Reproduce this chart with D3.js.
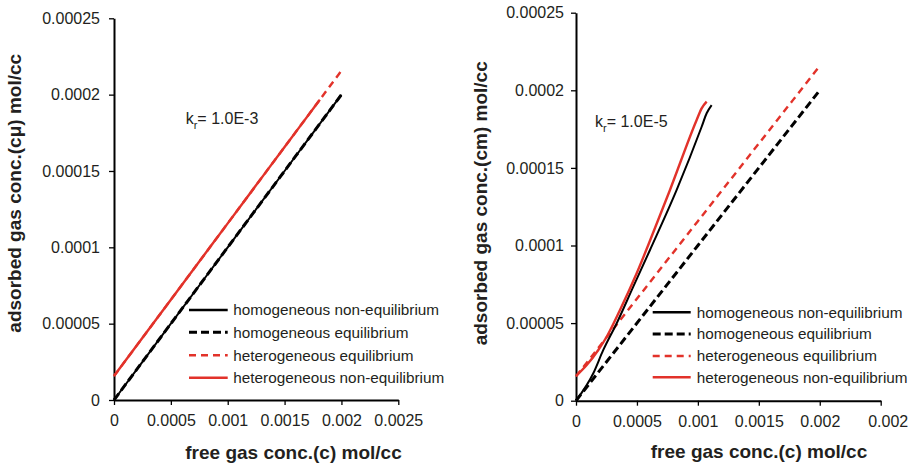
<!DOCTYPE html>
<html>
<head>
<meta charset="utf-8">
<script src="https://cdn.jsdelivr.net/npm/d3@7"></script>
<style>
  html, body { margin: 0; padding: 0; background: #fff; }
  svg { display: block; font-family: "Liberation Sans", Arial, sans-serif; }
</style>
</head>
<body>
<svg id="chart" width="917" height="466"></svg>
<script>
// ---------- data ----------
const yTickValues = [0, 0.00005, 0.0001, 0.00015, 0.0002, 0.00025];
const yTickLabels = ["0", "0.00005", "0.0001", "0.00015", "0.0002", "0.00025"];
const xTickValues = [0, 0.0005, 0.001, 0.0015, 0.002, 0.0025];
const xTickLabelsLeft = ["0", "0.0005", "0.001", "0.0015", "0.002", "0.0025"];
const xTickLabelsRight = ["0", "0.0005", "0.001", "0.0015", "0.002", "0.002"];

const legendLabels = ["homogeneous non-equilibrium", "homogeneous equilibrium",
                      "heterogeneous equilibrium", "heterogeneous non-equilibrium"];

// left panel, kr = 1.0E-3
const leftHomNonEqX = [0, 0.0005, 0.001, 0.0015, 0.002];
const leftHomNonEqY = [0, 0.00005, 0.0001, 0.00015, 0.0002];
const leftHomEqX = [0, 0.0005, 0.001, 0.0015, 0.002];
const leftHomEqY = [0, 0.00005, 0.0001, 0.00015, 0.0002];
const leftHetEqX = [0, 0.001, 0.002];
const leftHetEqY = [0.0000157, 0.0001157, 0.0002157];
const leftHetNonEqX = [0, 0.0005, 0.001, 0.0015, 0.00181];
const leftHetNonEqY = [0.0000157, 0.0000657, 0.0001157, 0.0001657, 0.0001967];

// right panel, kr = 1.0E-5
const rightHomNonEqX = [0, 0.000142, 0.000224, 0.000334, 0.00047, 0.000607, 0.000826, 0.001031, 0.001072, 0.001113];
const rightHomNonEqY = [0, 0.0000177, 0.0000327, 0.0000499, 0.0000735, 0.0000971, 0.0001358, 0.0001765, 0.0001852, 0.0001905];
const rightHomEqX = [0, 0.001, 0.002];
const rightHomEqY = [0, 0.0001, 0.0002];
const rightHetEqX = [0, 0.001, 0.002];
const rightHetEqY = [0.0000157, 0.0001157, 0.0002157];
const rightHetNonEqX = [0, 0.000088, 0.000183, 0.000252, 0.000361, 0.000498, 0.000593, 0.000771, 0.00099, 0.001031, 0.001072];
const rightHetNonEqY = [0.0000159, 0.000023, 0.0000327, 0.0000412, 0.0000584, 0.0000821, 0.0001003, 0.0001358, 0.0001809, 0.0001884, 0.0001927];

// ---------- styles ----------
const RED = "#e2322a";
const TXT = "#231f20";
const styles = {
  homNonEq: { color: "#000", width: 2, dash: null },
  homEq: { color: "#000", width: 3, dash: "8,4" },
  hetEq: { color: RED, width: 2.4, dash: "7,5" },
  hetNonEq: { color: RED, width: 2.4, dash: null }
};
const legendOrder = ["homNonEq", "homEq", "hetEq", "hetNonEq"];

const svg = d3.select("#chart");

function zip(xs, ys) { return xs.map((x, i) => [x, ys[i]]); }

function panel(cfg) {
  const x = d3.scaleLinear().domain([0, 0.0025]).range([cfg.x0, cfg.x1]);
  const y = d3.scaleLinear().domain([0, 0.00025]).range([cfg.y0, cfg.y1]);
  const g = svg.append("g");

  const xAxis = d3.axisBottom(x).tickValues(xTickValues)
    .tickFormat((d, i) => cfg.xLabels[i]).tickSize(5).tickSizeOuter(0).tickPadding(cfg.xPad);
  const yAxis = d3.axisLeft(y).tickValues(yTickValues)
    .tickFormat((d, i) => yTickLabels[i]).tickSize(5).tickSizeOuter(0).tickPadding(cfg.yPad);

  const gx = g.append("g").attr("transform", `translate(0,${cfg.y0})`).call(xAxis);
  const gy = g.append("g").attr("transform", `translate(${cfg.x0},0)`).call(yAxis);
  [gx, gy].forEach(a => {
    a.select(".domain").attr("stroke", "#000").attr("stroke-width", 2);
    a.selectAll(".tick line").attr("stroke", "#000").attr("stroke-width", 1.3);
    a.selectAll(".tick text").attr("fill", TXT).style("font-size", "16px")
      .style("font-family", "'Liberation Sans', Arial, sans-serif");
  });
  if (cfg.lastLabelDx) {
    gx.selectAll(".tick text").filter((d, i) => i === xTickValues.length - 1)
      .attr("dx", cfg.lastLabelDx);
  }

  const line = d3.line().x(d => x(d[0])).y(d => y(d[1])).curve(d3.curveMonotoneX);
  cfg.series.forEach(s => {
    const st = styles[s.key];
    g.append("path").datum(zip(s.xs, s.ys))
      .attr("d", line).attr("fill", "none")
      .attr("stroke", st.color).attr("stroke-width", st.width)
      .attr("stroke-dasharray", st.dash).attr("stroke-linejoin", "round");
  });

  // axis titles
  g.append("text").attr("x", cfg.xTitleX).attr("y", cfg.xTitleY)
    .attr("text-anchor", "middle").attr("fill", TXT)
    .style("font-size", "19px").style("font-weight", "bold").text("free gas conc.(c) mol/cc");
  g.append("text")
    .attr("transform", `translate(${cfg.yTitleX},${cfg.yTitleY}) rotate(-90)`)
    .attr("text-anchor", "middle").attr("fill", TXT)
    .style("font-size", "19px").style("font-weight", "bold").text(cfg.yTitle);

  // annotation
  const t = g.append("text").attr("x", cfg.annX).attr("y", cfg.annY)
    .attr("fill", TXT).style("font-size", "16px");
  t.append("tspan").text("k");
  t.append("tspan").attr("dy", 5).style("font-size", "11px").text("r");
  t.append("tspan").attr("dy", -5).text("= " + cfg.annText);

  // legend
  legendOrder.forEach((k, i) => {
    const st = styles[k];
    const ly = cfg.legRows[i];
    g.append("line").attr("x1", cfg.legX0).attr("x2", cfg.legX1)
      .attr("y1", ly).attr("y2", ly)
      .attr("stroke", st.color).attr("stroke-width", k === "homEq" ? 3 : 2.4)
      .attr("stroke-dasharray", st.dash);
    g.append("text").attr("x", cfg.legTextX).attr("y", ly).attr("dy", "0.35em")
      .attr("fill", TXT).style("font-size", "15.3px").text(legendLabels[i]);
  });
}

panel({
  x0: 114, x1: 398.3, y0: 400, y1: 18.3, xPad: 10, yPad: 9,
  xLabels: xTickLabelsLeft,
  xTitleX: 293.5, xTitleY: 458.5, yTitleX: 21, yTitleY: 193.3,
  yTitle: "adsorbed gas conc.(cμ) mol/cc",
  annX: 185.7, annY: 123.8, annText: "1.0E-3",
  legX0: 189, legX1: 227.7, legTextX: 233.3, legRows: [310, 332.3, 355.3, 377.7],
  series: [
    { key: "homNonEq", xs: leftHomNonEqX, ys: leftHomNonEqY },
    { key: "homEq", xs: leftHomEqX, ys: leftHomEqY },
    { key: "hetNonEq", xs: leftHetNonEqX, ys: leftHetNonEqY },
    { key: "hetEq", xs: leftHetEqX, ys: leftHetEqY }
  ]
});

panel({
  x0: 576, x1: 880.7, y0: 400.7, y1: 12.7, xPad: 10, yPad: 7,
  xLabels: xTickLabelsRight, lastLabelDx: 7,
  xTitleX: 759, xTitleY: 458, yTitleX: 486.5, yTitleY: 203.3,
  yTitle: "adsorbed gas conc.(cm) mol/cc",
  annX: 595, annY: 126.7, annText: "1.0E-5",
  legX0: 652.7, legX1: 690.7, legTextX: 696.7, legRows: [312.3, 334, 356, 377.3],
  series: [
    { key: "hetEq", xs: rightHetEqX, ys: rightHetEqY },
    { key: "homEq", xs: rightHomEqX, ys: rightHomEqY },
    { key: "homNonEq", xs: rightHomNonEqX, ys: rightHomNonEqY },
    { key: "hetNonEq", xs: rightHetNonEqX, ys: rightHetNonEqY }
  ]
});
</script>
</body>
</html>
